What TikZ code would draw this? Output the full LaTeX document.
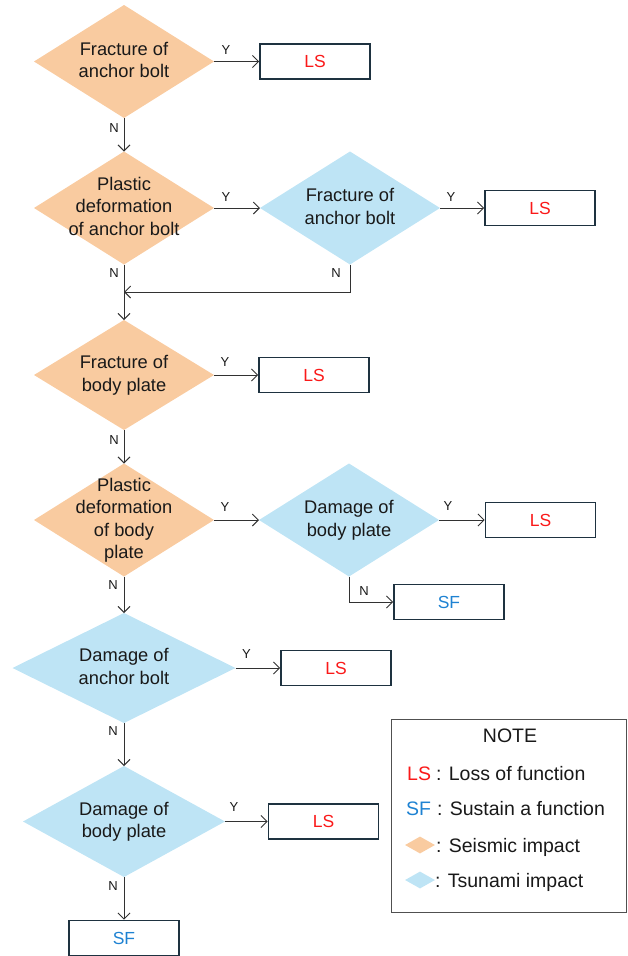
\documentclass[tikz,border=0pt]{standalone}
\usepackage{fontspec}
\setmainfont{Liberation Sans}
\usetikzlibrary{shapes.geometric,arrows.meta}
\definecolor{orng}{RGB}{249,203,160}
\definecolor{lblue}{RGB}{190,228,245}
\definecolor{boxline}{RGB}{30,50,64}
\definecolor{lsred}{RGB}{250,25,25}
\definecolor{sfblue}{RGB}{30,130,210}
\definecolor{lncol}{RGB}{50,50,50}
\definecolor{txtcol}{RGB}{25,25,25}
\definecolor{notegray}{RGB}{80,80,80}
\newcommand\dtext[1]{\makebox[0pt]{\raisebox{-0.25em}[0pt][0pt]{\begin{tabular}{@{}c@{}}#1\end{tabular}}}}
\begin{document}
\begin{tikzpicture}[x=1pt,y=-1pt,
  dia/.style={shape=diamond, inner sep=0pt, outer sep=0pt, minimum width=180pt, minimum height=113pt, draw=none, text=txtcol, font=\fontsize{18.3}{22.5}\selectfont},
  seis/.style={dia, fill=orng},
  tsu/.style={dia, fill=lblue},
  res/.style={draw=boxline, line width=1.8pt, minimum width=110pt, minimum height=35pt, inner sep=0pt, font=\fontsize{17.5}{20}\selectfont},
  lsbox/.style={res, text=lsred},
  sfbox/.style={res, text=sfblue},
  arr/.style={draw=lncol, line width=0.9pt, -{Straight Barb[length=6pt,width=12pt]}},
  lab/.style={font=\fontsize{13}{15}\selectfont, text=txtcol, inner sep=0pt},
  legtxt/.style={font=\fontsize{19.5}{22}\selectfont, text=txtcol, inner sep=0pt},
  key/.style={shape=diamond, inner sep=0pt, minimum width=30pt, minimum height=17pt},
]
\useasboundingbox (0,0) rectangle (628,956);

% nodes
\node[seis] (d1) at (124,61.5) {\dtext{Fracture of\\anchor bolt}};
\node[lsbox] (ls1) at (315,61.5) {LS};
\node[seis] (d2) at (124,208) {\dtext{Plastic\\deformation\\of anchor bolt}};
\node[tsu] (db2) at (350,208) {\dtext{Fracture of\\anchor bolt}};
\node[lsbox] (ls2) at (540,208) {LS};
\coordinate (m2) at (124,292);
\node[seis, minimum height=110pt] (d3) at (124,375) {\dtext{Fracture of\\body plate}};
\node[lsbox] (ls3) at (314,375) {LS};
\node[seis] (d4) at (124,520) {\dtext{Plastic\\deformation\\of body\\plate}};
\node[tsu] (db4) at (349,520) {\dtext{Damage of\\body plate}};
\node[lsbox] (ls4) at (540.5,520) {LS};
\node[sfbox] (sf1) at (449,602) {SF};
\node[tsu, minimum width=223pt, minimum height=110pt] (d5) at (124,668) {\dtext{Damage of\\anchor bolt}};
\node[lsbox] (ls5) at (336,668) {LS};
\node[tsu, minimum width=202pt, minimum height=111pt] (d6) at (124,821.5) {\dtext{Damage of\\body plate}};
\node[lsbox] (ls6) at (323.5,821.5) {LS};
\node[sfbox] (sf2) at (124,938) {SF};

% connectors
\draw[arr] (d1.east) -- (ls1.west);
\draw[arr] (d1.south) -- (d2.north);
\draw[arr] (d2.east) -- (db2.west);
\draw[arr] (db2.east) -- (ls2.west);
\draw[arr] (db2.south) |- (m2);
\draw[arr] (d2.south) -- (d3.north);
\draw[arr] (d3.east) -- (ls3.west);
\draw[arr] (d3.south) -- (d4.north);
\draw[arr] (d4.east) -- (db4.west);
\draw[arr] (db4.east) -- (ls4.west);
\draw[arr] (db4.south) |- (sf1.west);
\draw[arr] (d4.south) -- (d5.north);
\draw[arr] (d5.east) -- (ls5.west);
\draw[arr] (d5.south) -- (d6.north);
\draw[arr] (d6.east) -- (ls6.west);
\draw[arr] (d6.south) -- (sf2.north);

% Y labels
\node[lab] (y1) at ([xshift=12pt,yshift=11pt]d1.east) {Y};
\node[lab] (y2) at ([xshift=12pt,yshift=11pt]d2.east) {Y};
\node[lab] (y3) at ([xshift=11pt,yshift=11pt]db2.east) {Y};
\node[lab] (y4) at ([xshift=11pt,yshift=13pt]d3.east) {Y};
\node[lab] (y5) at ([xshift=11pt,yshift=13pt]d4.east) {Y};
\node[lab] (y6) at ([xshift=9pt,yshift=14pt]db4.east) {Y};
\node[lab] (y7) at ([xshift=11pt,yshift=14pt]d5.east) {Y};
\node[lab] (y8) at ([xshift=9pt,yshift=14pt]d6.east) {Y};
% N labels
\node[lab] (n1) at ([xshift=-10pt,yshift=-10pt]d1.south) {N};
\node[lab] (n2) at ([xshift=-10pt,yshift=-9pt]d2.south) {N};
\node[lab] (n3) at ([xshift=-14pt,yshift=-9pt]db2.south) {N};
\node[lab] (n4) at ([xshift=-10pt,yshift=-10pt]d3.south) {N};
\node[lab] (n5) at ([xshift=-11pt,yshift=-9pt]d4.south) {N};
\node[lab] (n6) at ([xshift=15pt,yshift=-15pt]db4.south) {N};
\node[lab] (n7) at ([xshift=-11pt,yshift=-8pt]d5.south) {N};
\node[lab] (n8) at ([xshift=-11pt,yshift=-9pt]d6.south) {N};

% NOTE box
\node[draw=notegray, line width=0.8pt, minimum width=235pt, minimum height=193pt, inner sep=0pt] (note) at (508.5,815.5) {};
\node[legtxt, anchor=base] (notet) at (510,742) {NOTE};
\node[legtxt, anchor=base west, text=lsred] (kls) at (407,780) {LS};
\node[legtxt, anchor=base west] (tls) at (436,780) {: Loss of function};
\node[legtxt, anchor=base west, text=sfblue] (ksf) at (406,815) {SF};
\node[legtxt, anchor=base west] (tsf) at (437,815) {: Sustain a function};
\node[key, fill=orng] (kseis) at (420,845) {};
\node[legtxt, anchor=base west] (tseis) at (436,852) {: Seismic impact};
\node[key, fill=lblue] (ktsu) at (420,880) {};
\node[legtxt, anchor=base west] (ttsu) at (435,887) {: Tsunami impact};
\end{tikzpicture}
\end{document}
